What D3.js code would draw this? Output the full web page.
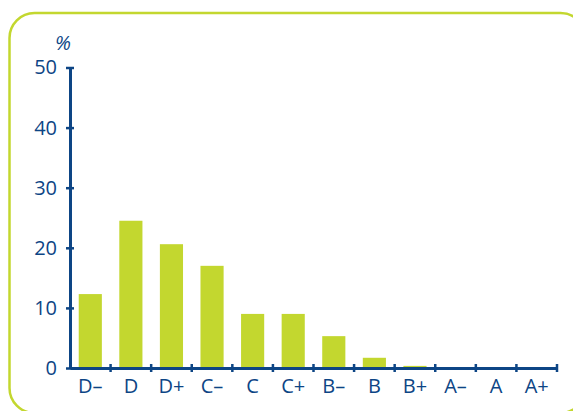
<!DOCTYPE html>
<html>
<head>
<meta charset="utf-8">
<script src="https://cdn.jsdelivr.net/npm/d3@7"></script>
<style>
  body { margin: 0; background: #fff; }
  text { font-family: "Open Sans", "Noto Sans", sans-serif; fill: #0d4585; }
</style>
</head>
<body>
<div id="chart"></div>
<script>
(function() {
    const width = 573;
    const height = 411;

    // grades and share of students (%)
    const grades = ["D\u2013", "D", "D+", "C\u2013", "C", "C+", "B\u2013", "B", "B+", "A\u2013", "A", "A+"];
    const shares = [12.3, 24.5, 20.6, 17.0, 9.0, 9.0, 5.3, 1.7, 0.35, 0, 0, 0];
    const yTicks = [0, 10, 20, 30, 40, 50];

    const blue = "#0d4585";
    const lime = "#c3d72f";

    const margin = { left: 70, right: 16, top: 67.5, bottom: 43 };

    const svg = d3.select("#chart")
        .append("svg")
        .attr("width", width)
        .attr("height", height);

    // rounded frame, partly cut off by the window
    svg.append("rect")
        .attr("x", 9.5)
        .attr("y", 13)
        .attr("width", 576)
        .attr("height", 400)
        .attr("rx", 25)
        .attr("fill", "none")
        .attr("stroke", lime)
        .attr("stroke-width", 2.5);

    const x = d3.scaleBand()
        .domain(grades)
        .range([margin.left, width - margin.right])
        .paddingInner(0.43)
        .paddingOuter(0.215);

    const y = d3.scaleLinear()
        .domain([0, 50])
        .range([height - margin.bottom, margin.top]);

    svg.append("g")
        .selectAll("rect")
        .data(shares)
        .enter().append("rect")
        .attr("x", (d, i) => x(grades[i]))
        .attr("y", d => y(d))
        .attr("width", x.bandwidth())
        .attr("height", d => y(0) - y(d))
        .attr("fill", lime);

    // y axis
    const yAxis = svg.append("g")
        .attr("transform", `translate(${margin.left},0)`)
        .call(d3.axisLeft(y).tickValues(yTicks).tickSize(0).tickPadding(13));
    yAxis.select(".domain").attr("stroke", blue).attr("stroke-width", 3);
    yAxis.selectAll(".tick line").remove();
    yAxis.selectAll(".tick text")
        .attr("font-size", 20)
        .attr("fill", blue);
    yAxis.selectAll(".tick")
        .append("line")
        .attr("x1", -4).attr("x2", 4)
        .attr("stroke", blue).attr("stroke-width", 2.5);

    // x axis with ticks at band edges
    const xAxis = svg.append("g")
        .attr("transform", `translate(0,${y(0)})`)
        .call(d3.axisBottom(x).tickSize(0).tickPadding(11));
    xAxis.select(".domain").attr("stroke", blue).attr("stroke-width", 3);
    xAxis.selectAll(".tick text")
        .attr("font-size", 20)
        .attr("fill", blue);

    const step = x.step();
    const edges = grades.map((g, i) => margin.left + (i + 1) * step);
    xAxis.selectAll(".edge")
        .data(edges)
        .enter().append("line")
        .attr("class", "edge")
        .attr("x1", d => d).attr("x2", d => d)
        .attr("y1", -4).attr("y2", 4)
        .attr("stroke", blue).attr("stroke-width", 2.5);

    svg.append("text")
        .attr("x", 63)
        .attr("y", 50)
        .attr("text-anchor", "middle")
        .attr("font-size", 20)
        .attr("font-style", "italic")
        .text("%");
})();
</script>
</body>
</html>
